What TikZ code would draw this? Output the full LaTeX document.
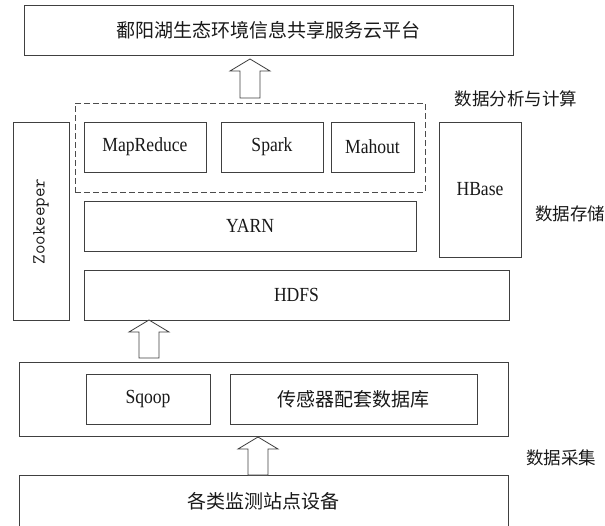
\documentclass[tikz,border=0pt]{standalone}
\usepackage{fontspec}
\setmainfont{Liberation Serif}
\newfontfamily\latn[FakeStretch=0.88]{Liberation Serif}
\newfontfamily\cjk{Noto Sans CJK SC}
\usetikzlibrary{calc}
\tikzset{
  box/.style={draw=black!75, line width=0.8pt, inner sep=0pt, fill=white, text=black!90},
  dashbox/.style={draw=black!70, line width=0.8pt, dash pattern=on 6pt off 3pt, inner sep=0pt},
  lat/.style={font=\latn\fontsize{20}{22}\selectfont},
  zh/.style={font=\cjk\fontsize{19}{21}\selectfont},
  lbl/.style={font=\cjk\fontsize{17.5}{19}\selectfont, text=black!90},
  hollow/.style={draw=black!75, line width=0.8pt, fill=white, line join=miter}
}
\newcommand\uparrowshape[2]{%
  \draw[hollow] (#1) -- ($(#1)+(20,12)$) -- ($(#1)+(10,12)$) -- ($(#2)+(10,0)$)
    -- ($(#2)+(-10,0)$) -- ($(#1)+(-10,12)$) -- ($(#1)+(-20,12)$) -- cycle;}
\begin{document}
\begin{tikzpicture}[x=1pt,y=-1pt]
\useasboundingbox (0,0) rectangle (605,525);
% top platform
\node[box, zh, minimum width=489pt, minimum height=50pt] (top) at (268.5,30) {鄱阳湖生态环境信息共享服务云平台};
% analysis group
\node[dashbox, minimum width=350pt, minimum height=89pt] (grp) at (250,147.5) {};
\node[box, lat, minimum width=122pt, minimum height=50pt] (mr) at (145,147) {MapReduce};
\node[box, lat, minimum width=102pt, minimum height=50pt] (spark) at (272,147) {Spark};
\node[box, lat, minimum width=83pt, minimum height=50pt] (mahout) at (372.5,147) {Mahout};
\node[lbl] (lana) at (516,99) {数据分析与计算};
% zookeeper
\node[box, minimum width=56pt, minimum height=198pt] (zk) at (41,221.5) {};
\node[font=\ttfamily\fontsize{18.5}{20}\selectfont, text=black!90, rotate=90] (zkt) at (zk.center) {Zookeeper};
% hbase
\node[box, lat, minimum width=82pt, minimum height=135pt] (hbase) at (480,189.5) {HBase};
\node[lbl] (lsto) at (570,214) {数据存储};
% yarn / hdfs
\node[box, lat, minimum width=332pt, minimum height=50pt] (yarn) at (250,226) {YARN};
\node[box, lat, minimum width=425pt, minimum height=50pt] (hdfs) at (296.5,295) {HDFS};
% collection layer
\node[box, minimum width=489pt, minimum height=74pt] (col) at (263.5,399) {};
\node[box, lat, minimum width=124pt, minimum height=50pt] (sqoop) at (148,399) {Sqoop};
\node[box, zh, minimum width=247pt, minimum height=50pt] (sdb) at (353.5,399) {传感器配套数据库};
\node[lbl] (lcol) at (561,458) {数据采集};
% devices
\node[box, zh, minimum width=489pt, minimum height=52pt] (dev) at (263.5,501) {各类监测站点设备};
% arrows
\coordinate (t1) at (250,59);  \coordinate (b1) at (250,98);
\coordinate (t2) at (149,320); \coordinate (b2) at (149,358);
\coordinate (t3) at (258,437); \coordinate (b3) at (258,475);
\uparrowshape{t1}{b1}
\uparrowshape{t2}{b2}
\uparrowshape{t3}{b3}
\end{tikzpicture}
\end{document}
